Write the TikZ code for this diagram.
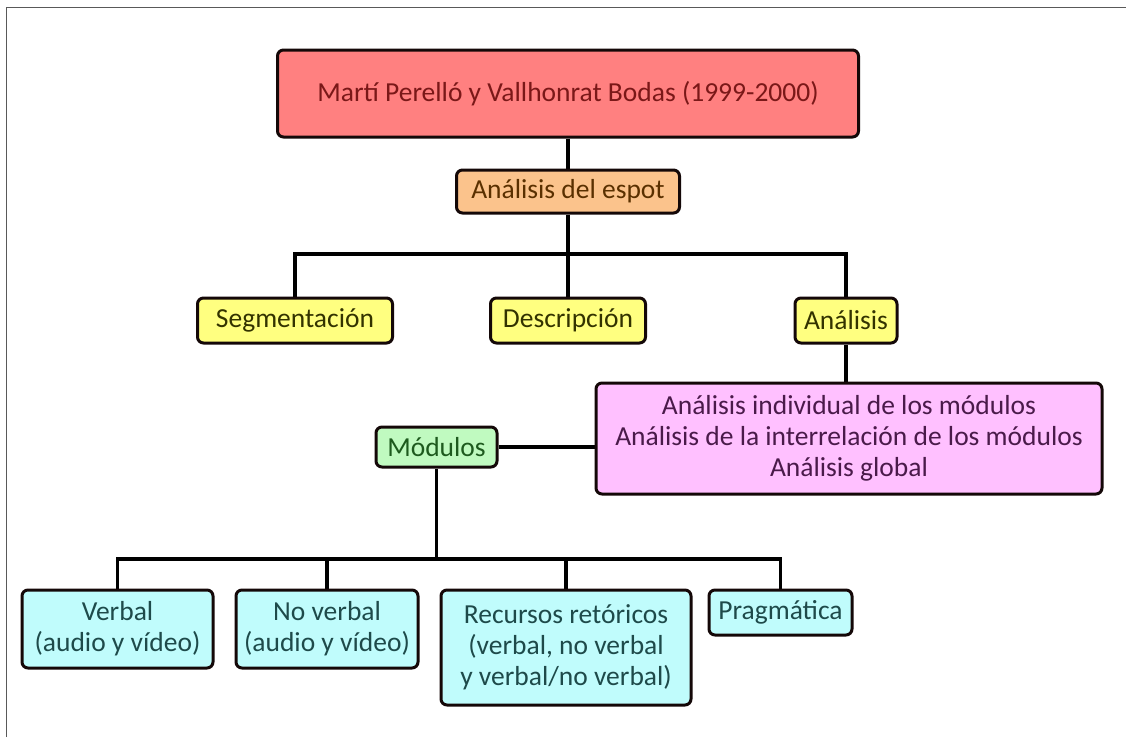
\documentclass[tikz,border=0pt]{standalone}
\usepackage{fontspec}
\setmainfont{Carlito}
\usetikzlibrary{backgrounds}
\definecolor{redfill}{HTML}{FF8080}
\definecolor{redtext}{HTML}{7A1818}
\definecolor{orangefill}{HTML}{FBC38C}
\definecolor{orangetext}{HTML}{5A3000}
\definecolor{yellowfill}{HTML}{FFFF80}
\definecolor{yellowtext}{HTML}{333300}
\definecolor{pinkfill}{HTML}{FFC0FF}
\definecolor{pinktext}{HTML}{4A1A4A}
\definecolor{greenfill}{HTML}{C0FAC0}
\definecolor{greentext}{HTML}{1E5A1E}
\definecolor{cyanfill}{HTML}{C0FCFC}
\definecolor{cyantext}{HTML}{1E4A4A}
\definecolor{edge}{HTML}{140808}
\begin{document}
\begin{tikzpicture}[x=1pt,y=-1pt,
  box/.style={draw=edge, line width=3pt, rounded corners=6pt,
    align=center, inner sep=0pt, font=\fontsize{27.5}{31}\selectfont},
  conn/.style={draw=black, line width=3.2pt},
  redbox/.style={box, fill=redfill, text=redtext},
  orangebox/.style={box, fill=orangefill, text=orangetext},
  yellowbox/.style={box, fill=yellowfill, text=yellowtext},
  pinkbox/.style={box, fill=pinkfill, text=pinktext},
  greenbox/.style={box, fill=greenfill, text=greentext},
  cyanbox/.style={box, fill=cyanfill, text=cyantext}]
\useasboundingbox (0,0) rectangle (1126,737);

% nodes
\node[redbox, minimum width=581, minimum height=87] (top) at (568,93.5)
  {Martí Perelló y Vallhonrat Bodas (1999-2000)};
\node[orangebox, minimum width=223, minimum height=43] (espot) at (568,191.5)
  {Análisis del espot};
\node[yellowbox, minimum width=195, minimum height=45] (seg) at (295,320.5)
  {Segmentación};
\node[yellowbox, minimum width=155, minimum height=45] (desc) at (568,320.5)
  {Descripción};
\node[yellowbox, minimum width=102, minimum height=45] (ana) at (846,320.5)
  {Análisis};
\node[pinkbox, minimum width=506, minimum height=111] (pink) at (849,438.5)
  {Análisis individual de los módulos\\Análisis de la interrelación de los módulos\\Análisis global};
\node[greenbox, minimum width=121, minimum height=40] (mod) at (436.5,447)
  {Módulos};
\node[cyanbox, minimum width=191, minimum height=78] (verb) at (117.5,629)
  {Verbal\\(audio y vídeo)};
\node[cyanbox, minimum width=182, minimum height=78] (noverb) at (327,629)
  {No verbal\\(audio y vídeo)};
\node[cyanbox, minimum width=250, minimum height=115] (rec) at (566,647.5)
  {Recursos retóricos\\(verbal, no verbal\\y verbal/no verbal)};
\node[cyanbox, minimum width=143, minimum height=45] (prag) at (780.5,612.5)
  {Pragmática};

% bus junctions
\coordinate (bus1) at (568,254);
\coordinate (bus2) at (436.5,559);

% page, frame and connectors, kept behind the boxes
\begin{scope}[on background layer]
\fill[white] (0,0) rectangle (1126,737);
\draw[gray!70!black, line width=1.6pt] (6.5,737) -- (6.5,7.5) -- (1126,7.5);
\draw[conn] (top.south) -- (espot.north);
\draw[conn] (espot.south) -- (desc.north);
\draw[conn] (seg.north) |- (bus1) -| (ana.north);
\draw[conn] (ana.south) -- (ana.south |- pink.north);
\draw[conn] (mod.east) -- (mod.east -| pink.west);
\draw[conn] (mod.south) -- (bus2);
\draw[conn] (verb.north) |- (bus2) -| (prag.north);
\draw[conn] (noverb.north) -- (noverb.north |- bus2);
\draw[conn] (rec.north) -- (rec.north |- bus2);
\end{scope}
\end{tikzpicture}
\end{document}
